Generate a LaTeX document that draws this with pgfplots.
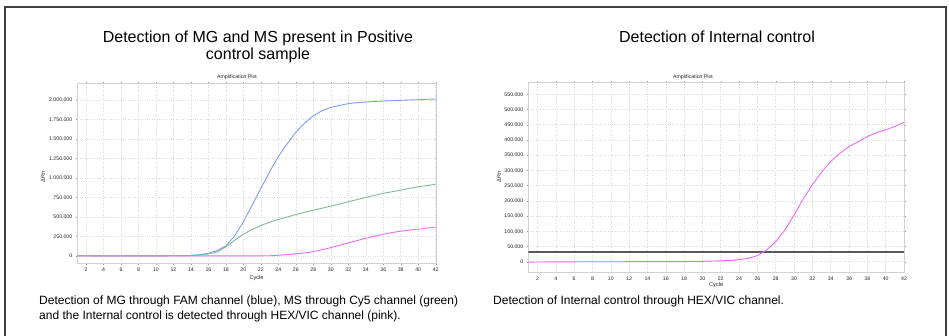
\documentclass[border=0pt]{standalone}
\usepackage{pgfplots}
\pgfplotsset{compat=1.18}
\usepackage{fontspec}
\setmainfont{Liberation Sans}
\definecolor{cblue}{RGB}{123,158,245}
\definecolor{cgreen}{RGB}{125,187,149}
\definecolor{cpink}{RGB}{240,105,240}
\pgfplotsset{qpcr/.style={
  scale only axis,
  axis line style={black!18},
  tick style={black!40},
  tick align=outside,
  major tick length=1.5pt,
  grid=major,
  grid style={dotted, line width=0.5pt, black!14},
  xmin=1, xmax=42,
  xtick={2,4,...,42},
  tick label style={font=\fontsize{5.2}{6}\selectfont, text=black!85},
  /pgf/number format/assume math mode=true,
  scaled y ticks=false,
  yticklabel style={/pgf/number format/.cd, fixed, 1000 sep={.}},
  xlabel={Cycle},
  ylabel={ΔRn},
  label style={font=\fontsize{5.6}{6.5}\selectfont, text=black!85},
  every axis plot/.append style={line width=0.9pt},
}}
\begin{document}
\begin{tikzpicture}[x=1pt,y=1pt]
\useasboundingbox (0,0) rectangle (949,335);
\fill[white] (0,0) rectangle (949,335);
\draw[black!75, line width=1.5pt] (5,-5) -- (5,328) -- (946,328) -- (946,-5);
% titles
\node[anchor=base, font=\fontsize{16}{18}\selectfont] at (258,292) {Detection of MG and MS present in Positive};
\node[anchor=base, font=\fontsize{16}{18}\selectfont] at (258,275) {control sample};
\node[anchor=base, font=\fontsize{16}{18}\selectfont] at (717,292) {Detection of Internal control};
% sub titles
\node[font=\fontsize{5.2}{6}\selectfont, text=black!85] at (237,258) {Amplification Plot};
\node[font=\fontsize{5.2}{6}\selectfont, text=black!85] at (693,258) {Amplification Plot};
% captions
\node[anchor=base west, inner sep=0pt, font=\fontsize{12}{14}\selectfont] at (39,31) {Detection of MG through FAM channel (blue), MS through Cy5 channel (green)};
\node[anchor=base west, inner sep=0pt, font=\fontsize{12}{14}\selectfont] at (39,16) {and the Internal control is detected through HEX/VIC channel (pink).};
\node[anchor=base west, inner sep=0pt, font=\fontsize{12}{14}\selectfont] at (493,31) {Detection of Internal control through HEX/VIC channel.};

\begin{axis}[qpcr,
  at={(77.3pt,72pt)}, anchor=south west,
  width=358.4pt, height=180pt,
  ymin=-90000, ymax=2218000,
  ytick={0,250000,500000,750000,1000000,1250000,1500000,1750000,2000000},
  ylabel style={at={(axis description cs:-0.096,0.48)}, anchor=center},
  xlabel style={at={(axis description cs:0.5,-0.083)}, anchor=center},
]
\addplot[cblue] coordinates {(1,3000)(2,3000)(3,2000)(4,2000)(5,1000)(6,1000)(7,1000)(8,2000)(9,2000)(10,2000)(11,2000)(12,3000)(13,4000)(14,8000)(15,17000)(16,34000)(17,70000)(18,130000)(19,257000)(20,438000)(21,652000)(22,867000)(23,1080000)(24,1275000)(25,1438000)(26,1588000)(27,1704000)(28,1798000)(29,1863000)(30,1906000)(31,1931000)(32,1953000)(33,1966000)(34,1974000)(35,1981000)(36,1987000)(37,1992000)(38,1996000)(39,2000000)(40,2004000)(41,2009000)(42,2013000)};
\addplot[cgreen] coordinates {(1,2000)(2,2000)(3,1000)(4,1000)(5,0)(6,0)(7,1000)(8,1000)(9,2000)(10,2000)(11,2000)(12,3000)(13,4000)(14,6000)(15,12000)(16,26000)(17,51000)(18,116000)(19,202000)(20,279000)(21,340000)(22,390000)(23,434000)(24,468000)(25,500000)(26,530000)(27,560000)(28,588000)(29,613000)(30,639000)(31,667000)(32,695000)(33,723000)(34,751000)(35,777000)(36,803000)(37,824000)(38,845000)(39,867000)(40,888000)(41,903000)(42,918000)};
\addplot[cpink] coordinates {(1,0)(2,0)(3,0)(4,0)(5,0)(6,0)(7,0)(8,0)(9,0)(10,0)(11,0)(12,0)(13,0)(14,0)(15,1000)(16,1000)(17,1000)(18,1000)(19,1000)(20,2000)(21,2000)(22,2000)(23,3000)(24,9000)(25,18000)(26,28000)(27,39000)(28,56000)(29,80000)(30,107000)(31,137000)(32,167000)(33,197000)(34,227000)(35,253000)(36,279000)(37,300000)(38,318000)(39,331000)(40,343000)(41,358000)(42,373000)};
\end{axis}

\begin{axis}[qpcr,
  at={(528.3pt,63.3pt)}, anchor=south west,
  width=375.7pt, height=189pt,
  ymin=-32900, ymax=588000,
  ytick={0,50000,100000,150000,200000,250000,300000,350000,400000,450000,500000,550000},
  ylabel style={at={(axis description cs:-0.078,0.5)}, anchor=center},
  xlabel style={at={(axis description cs:0.5,-0.07)}, anchor=center},
]
\addplot[black!65, line width=1.4pt] coordinates {(1,32000)(42,32000)};
\addplot[cpink] coordinates {(1,-1500)(2,-1000)(3,-800)(4,-600)(5,-500)(6,-400)(7,-300)(8,-300)(9,-200)(10,-200)(11,-100)(12,0)(13,0)(14,0)(15,0)(16,100)(17,200)(18,300)(19,500)(20,1000)(21,2000)(22,3000)(23,4000)(24,7000)(25,11000)(26,20000)(27,38000)(28,66000)(29,104000)(30,153000)(31,206000)(32,253000)(33,294000)(34,329000)(35,356000)(36,378000)(37,394000)(38,411000)(39,424000)(40,434000)(41,444000)(42,458000)};
\end{axis}
\end{tikzpicture}
\end{document}
